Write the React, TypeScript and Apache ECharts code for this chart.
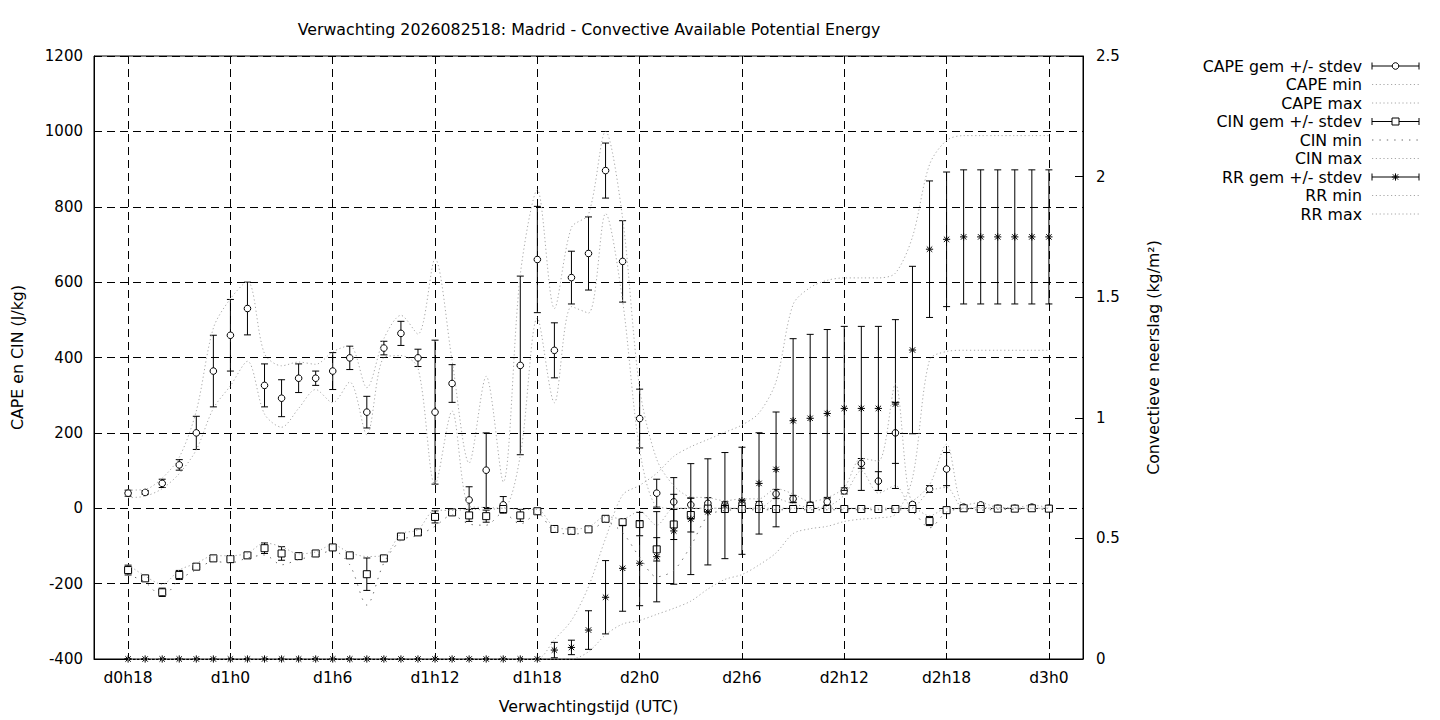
import React, { useEffect, useRef } from "react";
import * as echarts from "echarts";

const TITLE = "Verwachting 2026082518: Madrid - Convective Available Potential Energy";
const X_NAME = "Verwachtingstijd (UTC)";
const Y_NAME = "CAPE en CIN (J/kg)";
const Y2_NAME = "Convectieve neerslag (kg/m²)";

const PAD_BEFORE = ["d0h16", "d0h17"];
const PAD_AFTER = ["d3h1", "d3h2"];
const TIMES = [
  "d0h18", "d0h19", "d0h20", "d0h21", "d0h22", "d0h23",
  "d1h0", "d1h1", "d1h2", "d1h3", "d1h4", "d1h5", "d1h6", "d1h7", "d1h8", "d1h9", "d1h10", "d1h11",
  "d1h12", "d1h13", "d1h14", "d1h15", "d1h16", "d1h17", "d1h18", "d1h19", "d1h20", "d1h21", "d1h22", "d1h23",
  "d2h0", "d2h1", "d2h2", "d2h3", "d2h4", "d2h5", "d2h6", "d2h7", "d2h8", "d2h9", "d2h10", "d2h11",
  "d2h12", "d2h13", "d2h14", "d2h15", "d2h16", "d2h17", "d2h18", "d2h19", "d2h20", "d2h21", "d2h22", "d2h23",
  "d3h0",
];
const X_TICKS = ["d0h18", "d1h0", "d1h6", "d1h12", "d1h18", "d2h0", "d2h6", "d2h12", "d2h18", "d3h0"];

const CAPE_MEAN = [
  40, 42, 66, 115, 200, 364, 459, 530, 326, 292, 345, 345, 364, 399, 255, 425, 464, 399, 255, 331,
  22, 101, 9, 379, 660, 419, 612, 676, 896, 655, 238, 40, 17, 9, 13, 9, 12, 10, 38, 25,
  9, 17, 46, 119, 72, 200, 10, 51, 104, 3, 9, 0, 0, 3, 0,
];
const CAPE_SD = [
  8, 5, 11, 14, 44, 95, 95, 70, 57, 49, 38, 19, 49, 31, 42, 18, 32, 23, 191, 50,
  35, 99, 22, 237, 141, 73, 70, 97, 73, 108, 78, 37, 20, 18, 15, 8, 10, 8, 12, 9,
  5, 8, 8, 13, 25, 81, 5, 9, 44, 3, 5, 0, 0, 3, 0,
];
const CAPE_MIN = [
  28, 32, 52, 92, 155, 265, 325, 390, 250, 215, 265, 315, 280, 335, 195, 400, 405, 372, 62, 258,
  5, 2, 0, 140, 505, 280, 535, 518, 782, 550, 155, 5, 0, 0, 0, 0, 0, 0, 25, 12,
  2, 5, 35, 100, 40, 60, 2, 45, 55, 0, 2, 0, 0, 0, 0,
];
const CAPE_MAX = [
  48, 50, 80, 135, 258, 478, 556, 602, 410, 378, 388, 382, 415, 432, 320, 450, 512, 462, 662, 392,
  120, 350, 70, 620, 845, 530, 745, 780, 1000, 770, 318, 130, 60, 30, 28, 20, 25, 25, 52, 38,
  18, 28, 55, 132, 125, 330, 20, 62, 170, 8, 15, 2, 2, 8, 2,
];

const CIN_MEAN = [
  -164, -186, -223, -177, -155, -133, -135, -125, -106, -120, -127, -120, -104, -125, -175, -133, -75, -64, -23, -11,
  -19, -21, -2, -19, -8, -55, -60, -56, -28, -37, -42, -109, -43, -18, -1, -2, -2, -2, -2, -2,
  -2, -2, -2, -2, -2, -2, -2, -34, -5, 0, -2, -1, -1, 0, -1,
];
const CIN_SD = [
  13, 4, 11, 12, 6, 3, 3, 3, 14, 18, 3, 3, 6, 3, 43, 6, 3, 3, 16, 3,
  16, 16, 8, 16, 3, 3, 3, 3, 5, 8, 31, 31, 40, 45, 5, 3, 3, 3, 3, 3,
  3, 3, 3, 3, 3, 3, 3, 12, 3, 1, 2, 1, 1, 1, 1,
];
const CIN_MIN = [
  -176, -196, -234, -190, -163, -141, -145, -132, -124, -150, -136, -126, -112, -150, -257, -145, -85, -72, -48, -18,
  -42, -45, -12, -42, -14, -62, -68, -64, -36, -65, -130, -182, -165, -100, -20, -6, -4, -4, -4, -4,
  -4, -4, -4, -4, -4, -4, -10, -52, -10, -2, -5, -3, -3, -2, -3,
];
const CIN_MAX = [
  -150, -180, -202, -164, -146, -126, -126, -119, -92, -102, -121, -116, -97, -118, -128, -126, -68, -57, -5, -6,
  -3, -4, 0, -3, -3, -50, -55, -50, -22, -28, -8, -45, 0, 0, 0, 0, 0, 0, 0, 0,
  0, 0, 0, 0, 0, 0, 0, -20, 0, 0, 0, 0, 0, 0, 0,
];

const RR_MEAN = [
  0, 0, 0, 0, 0, 0, 0, 0, 0, 0, 0, 0, 0, 0, 0, 0, 0, 0, 0, 0,
  0, 0, 0, 0, 0, 0.037, 0.048, 0.12, 0.256, 0.376, 0.397, 0.424, 0.531, 0.58, 0.61, 0.636, 0.656, 0.728, 0.786, 0.988,
  0.998, 1.018, 1.039, 1.039, 1.039, 1.057, 1.281, 1.699, 1.74, 1.75, 1.75, 1.75, 1.75, 1.75, 1.75,
];
const RR_SD = [
  0, 0, 0, 0, 0, 0, 0, 0, 0, 0, 0, 0, 0, 0, 0, 0, 0, 0, 0, 0,
  0, 0, 0, 0, 0, 0.032, 0.03, 0.08, 0.152, 0.178, 0.176, 0.187, 0.221, 0.23, 0.22, 0.22, 0.222, 0.21, 0.238, 0.34,
  0.348, 0.348, 0.34, 0.34, 0.34, 0.35, 0.347, 0.283, 0.279, 0.278, 0.278, 0.278, 0.278, 0.278, 0.278,
];
const RR_MIN = [
  0, 0, 0, 0, 0, 0, 0, 0, 0, 0, 0, 0, 0, 0, 0, 0, 0, 0, 0, 0,
  0, 0, 0, 0, 0, 0, 0, 0.03, 0.1, 0.145, 0.16, 0.185, 0.21, 0.24, 0.29, 0.33, 0.35, 0.39, 0.44, 0.52,
  0.54, 0.55, 0.57, 0.58, 0.585, 0.6, 0.75, 1.24, 1.275, 1.28, 1.28, 1.28, 1.28, 1.28, 1.28,
];
const RR_MAX = [
  0, 0, 0, 0, 0, 0, 0, 0, 0, 0, 0, 0, 0, 0, 0, 0, 0, 0, 0, 0,
  0, 0, 0, 0, 0, 0.08, 0.16, 0.3, 0.5, 0.68, 0.72, 0.77, 0.84, 0.88, 0.91, 0.94, 0.97, 1.02, 1.15, 1.47,
  1.54, 1.57, 1.58, 1.58, 1.58, 1.6, 1.75, 2.05, 2.15, 2.17, 2.17, 2.17, 2.17, 2.17, 2.17,
];

const LEGEND_LABELS = [
  "CAPE gem +/- stdev", "CAPE min", "CAPE max",
  "CIN gem +/- stdev", "CIN min", "CIN max",
  "RR gem +/- stdev", "RR min", "RR max",
];

const FONT = "DejaVu Sans";
const TEXT_SIZE = 15.8;
const LIGHT = "#a8a8a8";
const DARK = "#6a6a6a";
const LIGHT_DASH = [1.2, 2.6];
const SPARSE_DASH = [1.4, 6];

type Marker = "circle" | "square" | "star";

function markerShapes(kind: Marker, x: number, y: number) {
  const s = { stroke: "#000", lineWidth: 1, fill: "#fff" };
  const ls = { stroke: "#000", lineWidth: 1 };
  if (kind === "circle") {
    return [{ type: "circle", shape: { cx: x, cy: y, r: 3.3 }, style: s }];
  }
  if (kind === "square") {
    return [{ type: "rect", shape: { x: x - 3.5, y: y - 3.5, width: 7, height: 7 }, style: s }];
  }
  const h = 3.6;
  const d = 2.7;
  return [
    { type: "line", shape: { x1: x - h, y1: y, x2: x + h, y2: y }, style: ls },
    { type: "line", shape: { x1: x, y1: y - h, x2: x, y2: y + h }, style: ls },
    { type: "line", shape: { x1: x - d, y1: y - d, x2: x + d, y2: y + d }, style: ls },
    { type: "line", shape: { x1: x - d, y1: y + d, x2: x + d, y2: y - d }, style: ls },
  ];
}

function errRender(kind: Marker) {
  return (_params: any, api: any) => {
    const xi = api.value(0);
    const m = api.value(1);
    const sd = api.value(2);
    const c = api.coord([xi, m]);
    const hi = api.coord([xi, m + sd]);
    const lo = api.coord([xi, m - sd]);
    const x = c[0];
    const cap = 3.5;
    const st = { stroke: "#000", lineWidth: 1 };
    return {
      type: "group",
      children: [
        { type: "line", shape: { x1: x, y1: hi[1], x2: x, y2: lo[1] }, style: st },
        { type: "line", shape: { x1: x - cap, y1: hi[1], x2: x + cap, y2: hi[1] }, style: st },
        { type: "line", shape: { x1: x - cap, y1: lo[1], x2: x + cap, y2: lo[1] }, style: st },
        ...markerShapes(kind, x, c[1]),
      ],
    };
  };
}

function errSeries(name: string, mean: number[], sd: number[], kind: Marker, yAxisIndex: number) {
  return {
    name,
    type: "custom",
    yAxisIndex,
    silent: true,
    clip: false,
    encode: { x: 0, y: 1 },
    renderItem: errRender(kind),
    data: TIMES.map((t, i) => [t, mean[i], sd[i]]),
  };
}

function lineSeries(name: string, vals: number[], color: string, dash: number[], yAxisIndex: number) {
  return {
    name,
    type: "line",
    yAxisIndex,
    silent: true,
    symbol: "none",
    showSymbol: false,
    smooth: 0.3,
    clip: false,
    lineStyle: { color, width: 1, type: dash },
    data: TIMES.map((t, i) => [t, vals[i]]),
  };
}

function legendGraphic() {
  const rowY0 = 66;
  const step = 18.5;
  const xText = 1362;
  const x1 = 1372;
  const x2 = 1419;
  const xm = (x1 + x2) / 2;
  const styles: { err?: Marker; color?: string; dash?: number[] }[] = [
    { err: "circle" }, { color: LIGHT, dash: LIGHT_DASH }, { color: LIGHT, dash: LIGHT_DASH },
    { err: "square" }, { color: DARK, dash: SPARSE_DASH }, { color: LIGHT, dash: LIGHT_DASH },
    { err: "star" }, { color: LIGHT, dash: LIGHT_DASH }, { color: LIGHT, dash: LIGHT_DASH },
  ];
  const out: any[] = [];
  LEGEND_LABELS.forEach((label, i) => {
    const y = rowY0 + i * step;
    out.push({
      type: "text",
      x: xText,
      y,
      style: { text: label, align: "right", verticalAlign: "middle", fontSize: TEXT_SIZE, fontFamily: FONT, fill: "#000" },
    });
    const sty = styles[i];
    if (sty.err) {
      const st = { stroke: "#000", lineWidth: 1 };
      out.push({ type: "line", shape: { x1, y1: y, x2, y2: y }, style: st });
      out.push({ type: "line", shape: { x1, y1: y - 3.5, x2: x1, y2: y + 3.5 }, style: st });
      out.push({ type: "line", shape: { x1: x2, y1: y - 3.5, x2, y2: y + 3.5 }, style: st });
      markerShapes(sty.err, xm, y).forEach((m) => out.push(m));
    } else {
      out.push({
        type: "line",
        shape: { x1, y1: y, x2, y2: y },
        style: { stroke: sty.color, lineWidth: 1, lineDash: sty.dash },
      });
    }
  });
  return out;
}

const isTick = (_i: number, v: any) => X_TICKS.indexOf(String(v)) >= 0;

export default function App() {
  const ref = useRef<HTMLDivElement>(null);
  useEffect(() => {
    if (!ref.current) return;
    const chart = echarts.init(ref.current, undefined, { renderer: "svg" });
    const numText = { color: "#000", fontSize: 15, fontFamily: FONT };
    const nameText = { color: "#000", fontSize: TEXT_SIZE, fontFamily: FONT };
    const option: any = {
      animation: false,
      backgroundColor: "#fff",
      textStyle: { fontFamily: FONT },
      grid: {
        left: 94, right: 357, top: 56, bottom: 61,
        show: true, borderColor: "#000", borderWidth: 1,
        containLabel: false, outerBoundsMode: "none",
      },
      xAxis: {
        type: "category",
        data: [...PAD_BEFORE, ...TIMES, ...PAD_AFTER],
        boundaryGap: false,
        axisLine: { show: true, onZero: false, lineStyle: { color: "#000", width: 1 } },
        axisTick: { show: true, inside: true, length: 6, interval: isTick, lineStyle: { color: "#000" } },
        axisLabel: { ...numText, fontSize: 15.5, interval: isTick, margin: 11 },
        splitLine: { show: true, interval: isTick, lineStyle: { color: "#000", width: 1, type: [8, 5] } },
        name: X_NAME,
        nameLocation: "middle",
        nameGap: 39,
        nameTextStyle: nameText,
      },
      yAxis: [
        {
          type: "value",
          min: -400, max: 1200, interval: 200,
          axisLine: { show: true, onZero: false, lineStyle: { color: "#000", width: 1 } },
          axisTick: { show: true, inside: true, length: 6, lineStyle: { color: "#000" } },
          axisLabel: { ...numText, margin: 11, formatter: (v: number) => String(v) },
          splitLine: { show: true, lineStyle: { color: "#000", width: 1, type: [8, 5] } },
          name: Y_NAME,
          nameLocation: "middle",
          nameRotate: 90,
          nameGap: 69,
          nameTextStyle: nameText,
        },
        {
          type: "value",
          position: "right",
          min: 0, max: 2.5, interval: 0.5,
          axisLine: { show: true, onZero: false, lineStyle: { color: "#000", width: 1 } },
          axisTick: { show: true, inside: true, length: 8, lineStyle: { color: "#000" } },
          axisLabel: { ...numText, margin: 13, formatter: (v: number) => String(v) },
          splitLine: { show: false },
          name: Y2_NAME,
          nameLocation: "middle",
          nameRotate: 90,
          nameGap: 62,
          nameTextStyle: nameText,
        },
      ],
      graphic: [
        {
          type: "text",
          x: 589,
          y: 29,
          style: { text: TITLE, align: "center", verticalAlign: "middle", fontSize: TEXT_SIZE, fontFamily: FONT, fill: "#000" },
        },
        ...legendGraphic(),
      ],
      series: [
        errSeries("CAPE gem +/- stdev", CAPE_MEAN, CAPE_SD, "circle", 0),
        lineSeries("CAPE min", CAPE_MIN, LIGHT, LIGHT_DASH, 0),
        lineSeries("CAPE max", CAPE_MAX, LIGHT, LIGHT_DASH, 0),
        errSeries("CIN gem +/- stdev", CIN_MEAN, CIN_SD, "square", 0),
        lineSeries("CIN min", CIN_MIN, DARK, SPARSE_DASH, 0),
        lineSeries("CIN max", CIN_MAX, LIGHT, LIGHT_DASH, 0),
        errSeries("RR gem +/- stdev", RR_MEAN, RR_SD, "star", 1),
        lineSeries("RR min", RR_MIN, LIGHT, LIGHT_DASH, 1),
        lineSeries("RR max", RR_MAX, LIGHT, LIGHT_DASH, 1),
      ],
    };
    chart.setOption(option);
    return () => chart.dispose();
  }, []);
  return (
    <div
      ref={ref}
      style={{ position: "fixed", left: 0, top: 0, width: 1440, height: 720, background: "#fff" }}
    />
  );
}
